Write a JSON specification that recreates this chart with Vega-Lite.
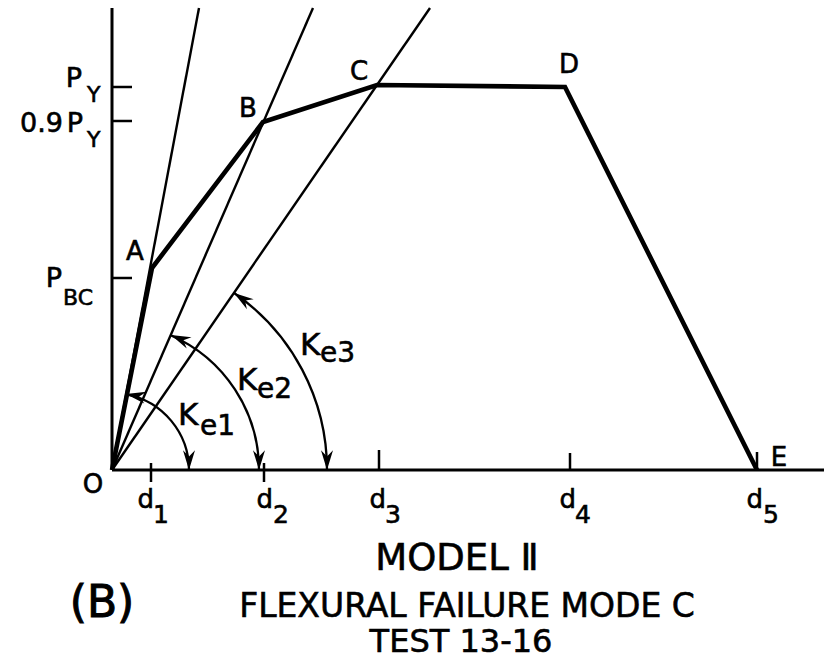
{
  "$schema": "https://vega.github.io/schema/vega-lite/v6.json",
  "width": 824,
  "height": 659,
  "autosize": {"type": "none"},
  "padding": 0,
  "background": "white",
  "config": {
    "view": {"stroke": null},
    "text": {"font": "DejaVu Sans", "color": "black", "stroke": "black", "strokeWidth": 0.6}
  },
  "datasets": {
    "axes": [
      {"x": 0, "y": 0, "x2": 0, "y2": 462},
      {"x": 0, "y": 0, "x2": 712, "y2": 0}
    ],
    "ticks": [
      {"x": 0, "y": 383, "x2": 20, "y2": 383},
      {"x": 0, "y": 349, "x2": 20, "y2": 349},
      {"x": 0, "y": 192, "x2": 20, "y2": 192},
      {"x": 39, "y": -12, "x2": 39, "y2": 7},
      {"x": 152, "y": -12, "x2": 152, "y2": 7},
      {"x": 267, "y": 0, "x2": 267, "y2": 20},
      {"x": 458, "y": 0, "x2": 458, "y2": 17},
      {"x": 645, "y": 0, "x2": 645, "y2": 18}
    ],
    "stiffness": [
      {"k": "Ke1", "x": 0, "y": 0, "x2": 87, "y2": 462},
      {"k": "Ke2", "x": 0, "y": 0, "x2": 201, "y2": 462},
      {"k": "Ke3", "x": 0, "y": 0, "x2": 318, "y2": 462}
    ],
    "curve": [
      {"pt": "O", "i": 0, "x": 0, "y": 0},
      {"pt": "A", "i": 1, "x": 40, "y": 202},
      {"pt": "B", "i": 2, "x": 151, "y": 348},
      {"pt": "C", "i": 3, "x": 265, "y": 385},
      {"pt": "D", "i": 4, "x": 453, "y": 383},
      {"pt": "E", "i": 5, "x": 645, "y": 0}
    ],
    "arcs": [
      {"k": "Ke1", "x": 0, "y": 0, "r": 77, "t1": 10.7, "t2": 90},
      {"k": "Ke2", "x": 0, "y": 0, "r": 147, "t1": 23.5, "t2": 90},
      {"k": "Ke3", "x": 0, "y": 0, "r": 215, "t1": 34.5, "t2": 90}
    ],
    "heads": [
      {"k": "Ke1", "x": 77, "y": 0, "ang": 180},
      {"k": "Ke1", "x": 14, "y": 76, "ang": 280.7},
      {"k": "Ke2", "x": 147, "y": 0, "ang": 180},
      {"k": "Ke2", "x": 59, "y": 135, "ang": 293.5},
      {"k": "Ke3", "x": 215, "y": 0, "ang": 180},
      {"k": "Ke3", "x": 122, "y": 177, "ang": 304.5}
    ],
    "pointLabels": [
      {"t": "A", "x": 23, "y": 210},
      {"t": "B", "x": 136, "y": 353},
      {"t": "C", "x": 247, "y": 390},
      {"t": "D", "x": 457, "y": 397},
      {"t": "E", "x": 667, "y": 4},
      {"t": "O", "x": -19, "y": -23}
    ],
    "yMain": [
      {"t": "P", "x": -30, "y": 383},
      {"t": "0.9", "x": -49, "y": 338},
      {"t": "P", "x": -29, "y": 338},
      {"t": "P", "x": -50, "y": 183}
    ],
    "ySub": [
      {"t": "Y", "x": -25, "y": 368},
      {"t": "Y", "x": -25, "y": 323},
      {"t": "BC", "x": -49, "y": 165}
    ],
    "dMain": [
      {"t": "d", "x": 42, "y": -38},
      {"t": "d", "x": 161, "y": -38},
      {"t": "d", "x": 274, "y": -38},
      {"t": "d", "x": 464, "y": -38},
      {"t": "d", "x": 651, "y": -38}
    ],
    "dSub": [
      {"t": "1", "x": 41, "y": -53},
      {"t": "2", "x": 161, "y": -53},
      {"t": "3", "x": 273, "y": -53},
      {"t": "4", "x": 463, "y": -53},
      {"t": "5", "x": 651, "y": -53}
    ],
    "kMain": [
      {"t": "K", "x": 66, "y": 45},
      {"t": "K", "x": 125, "y": 80},
      {"t": "K", "x": 188, "y": 115}
    ],
    "kSub": [
      {"t": "e1", "x": 88, "y": 35},
      {"t": "e2", "x": 145, "y": 72},
      {"t": "e3", "x": 208, "y": 108}
    ]
  },
  "encoding": {
    "x": {"field": "x", "type": "quantitative", "scale": {"domain": [-112, 712], "nice": false, "zero": false}, "axis": null},
    "y": {"field": "y", "type": "quantitative", "scale": {"domain": [-189, 470], "nice": false, "zero": false}, "axis": null}
  },
  "layer": [
    {
      "data": {"name": "axes"},
      "mark": {"type": "rule", "color": "black", "strokeWidth": 3},
      "encoding": {"x2": {"field": "x2"}, "y2": {"field": "y2"}}
    },
    {
      "data": {"name": "ticks"},
      "mark": {"type": "rule", "color": "black", "strokeWidth": 2.5},
      "encoding": {"x2": {"field": "x2"}, "y2": {"field": "y2"}}
    },
    {
      "data": {"name": "stiffness"},
      "mark": {"type": "rule", "color": "black", "strokeWidth": 2.4},
      "encoding": {"x2": {"field": "x2"}, "y2": {"field": "y2"}}
    },
    {
      "data": {"name": "curve"},
      "mark": {"type": "line", "color": "black", "strokeWidth": 4.6, "strokeJoin": "miter"},
      "encoding": {"order": {"field": "i", "type": "quantitative"}}
    },
    {
      "data": {"name": "arcs"},
      "mark": {"type": "arc", "filled": false, "stroke": "black", "strokeWidth": 2.3},
      "encoding": {
        "theta": {"field": "t1", "type": "quantitative", "stack": null, "scale": {"type": "linear", "domain": [0, 360], "range": [0, 6.283185307179586]}},
        "theta2": {"field": "t2"},
        "radius": {"field": "r", "type": "quantitative", "scale": {"type": "linear", "domain": [0, 500], "range": [0, 500], "zero": true}},
        "radius2": {"field": "r"}
      }
    },
    {
      "data": {"name": "heads"},
      "mark": {"type": "point", "shape": "M0,0L-0.38,1.25L0,0.85L0.38,1.25Z", "filled": true, "color": "black", "opacity": 1, "size": 1000, "strokeWidth": 0},
      "encoding": {"angle": {"field": "ang", "type": "quantitative", "scale": null}}
    },
    {
      "data": {"name": "pointLabels"},
      "mark": {"type": "text", "fontSize": 26, "align": "center", "baseline": "alphabetic"},
      "encoding": {"text": {"field": "t"}}
    },
    {
      "data": {"name": "yMain"},
      "mark": {"type": "text", "fontSize": 27, "align": "right", "baseline": "alphabetic"},
      "encoding": {"text": {"field": "t"}}
    },
    {
      "data": {"name": "ySub"},
      "mark": {"type": "text", "fontSize": 22, "align": "left", "baseline": "alphabetic"},
      "encoding": {"text": {"field": "t"}}
    },
    {
      "data": {"name": "dMain"},
      "mark": {"type": "text", "fontSize": 26, "align": "right", "baseline": "alphabetic"},
      "encoding": {"text": {"field": "t"}}
    },
    {
      "data": {"name": "dSub"},
      "mark": {"type": "text", "fontSize": 25, "align": "left", "baseline": "alphabetic"},
      "encoding": {"text": {"field": "t"}}
    },
    {
      "data": {"name": "kMain"},
      "mark": {"type": "text", "fontSize": 31, "align": "left", "baseline": "alphabetic"},
      "encoding": {"text": {"field": "t"}}
    },
    {
      "data": {"name": "kSub"},
      "mark": {"type": "text", "fontSize": 28, "align": "left", "baseline": "alphabetic"},
      "encoding": {"text": {"field": "t"}}
    },
    {
      "data": {"values": [{"t": "MODEL Ⅱ", "x": 345, "y": -100}]},
      "mark": {"type": "text", "fontSize": 37, "align": "center", "baseline": "alphabetic"},
      "encoding": {"text": {"field": "t"}}
    },
    {
      "data": {"values": [{"t": "(B)", "x": -10, "y": -147}]},
      "mark": {"type": "text", "fontSize": 44, "align": "center", "baseline": "alphabetic", "strokeWidth": 1},
      "encoding": {"text": {"field": "t"}}
    },
    {
      "data": {"values": [{"t": "FLEXURAL FAILURE MODE C", "x": 355, "y": -147}]},
      "mark": {"type": "text", "fontSize": 33, "align": "center", "baseline": "alphabetic"},
      "encoding": {"text": {"field": "t"}}
    },
    {
      "data": {"values": [{"t": "TEST 13-16", "x": 349, "y": -182}]},
      "mark": {"type": "text", "fontSize": 32, "align": "center", "baseline": "alphabetic"},
      "encoding": {"text": {"field": "t"}}
    }
  ]
}
